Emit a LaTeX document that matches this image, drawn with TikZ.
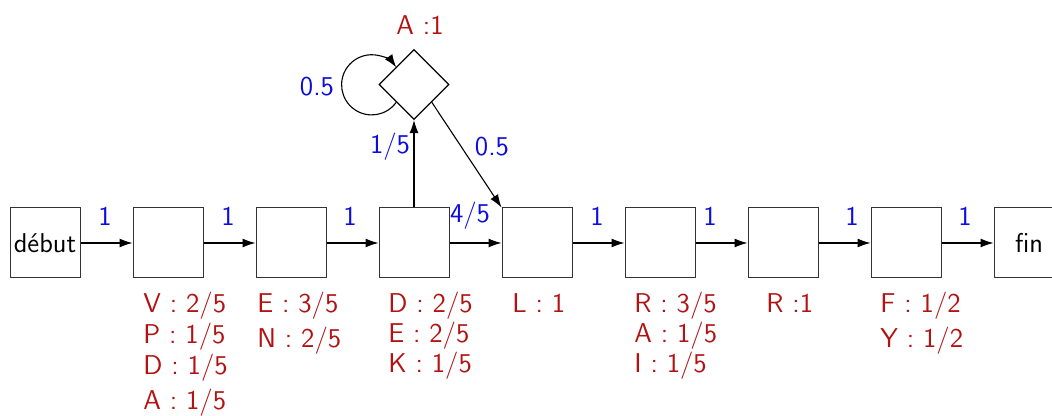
\documentclass[tikz,border=0pt]{standalone}
\usetikzlibrary{shapes.geometric,arrows.meta}
\definecolor{lblred}{RGB}{178,18,18}
\definecolor{lblblue}{RGB}{12,12,220}
\begin{document}
\begin{tikzpicture}[x=0.5pt,y=0.5pt,
  every node/.style={font=\sffamily\fontsize{13.6}{16}\selectfont},
  state/.style={draw=black!80,line width=0.5pt,minimum width=35pt,minimum height=35pt,inner sep=0pt},
  loopstate/.style={diamond,draw=black,line width=0.6pt,minimum width=35pt,minimum height=35pt,inner sep=0pt},
  arr/.style={-{Latex[length=6.5pt,width=4.5pt]},line width=0.55pt,black},
  prob/.style={text=lblblue,inner sep=0pt},
  emit/.style={text=lblred,inner sep=0pt,anchor=base west}]
\useasboundingbox (0,0) rectangle (1052,416);
\clip (0,0) rectangle (1052,416);
% states
\node[state] (deb) at (45,173) {début};
\node[state] (s1) at (168,173) {};
\node[state] (s2) at (291,173) {};
\node[state] (s3) at (414,173) {};
\node[state] (s4) at (537,173) {};
\node[state] (s5) at (660,173) {};
\node[state] (s6) at (783,173) {};
\node[state] (s7) at (906,173) {};
\node[state] (fin) at (1029,173) {fin};
\node[loopstate] (ins) at (414,331.5) {};
% chain arrows
\draw[arr] (deb) -- (s1);
\draw[arr] (s1) -- (s2);
\draw[arr] (s2) -- (s3);
\draw[arr] (s3) -- (s4);
\draw[arr] (s4) -- (s5);
\draw[arr] (s5) -- (s6);
\draw[arr] (s6) -- (s7);
\draw[arr] (s7) -- (fin);
\draw[arr] (s3.north) -- (ins.south);
\draw[arr] (ins.south east) -- (s4.north west);
\draw[arr] (ins.south west) arc[start angle=-35.5,end angle=-324.5,radius=30.1];
% transition probabilities
\node[prob] (p1) at (105,200) {1};
\node[prob] (p2) at (228,200) {1};
\node[prob] (p3) at (350,200) {1};
\node[prob] (p4) at (470,200) {4/5};
\node[prob] (p5) at (597,200) {1};
\node[prob] (p6) at (710,200) {1};
\node[prob] (p7) at (852,200) {1};
\node[prob] (p8) at (965,200) {1};
\node[prob] (pup) at (390,269) {1/5};
\node[prob] (pdown) at (492,269) {0.5};
\node[prob] (ploop) at (317,329) {0.5};
% emissions
\node[text=lblred,inner sep=0pt] (eA) at (420,391) {A :1};
\node[emit] (e1a) at (143,103) {V : 2/5};
\node[emit] (e1b) at (143,72) {P : 1/5};
\node[emit] (e1c) at (143,41) {D : 1/5};
\node[emit] (e1d) at (143,6) {A : 1/5};
\node[emit] (e2a) at (257,103) {E : 3/5};
\node[emit] (e2b) at (257,68) {N : 2/5};
\node[emit] (e3a) at (388,103) {D : 2/5};
\node[emit] (e3b) at (388,73) {E : 2/5};
\node[emit] (e3c) at (388,43) {K : 1/5};
\node[emit] (e4a) at (512,103) {L : 1};
\node[emit] (e5a) at (634,103) {R : 3/5};
\node[emit] (e5b) at (634,73) {A : 1/5};
\node[emit] (e5c) at (634,43) {I : 1/5};
\node[emit] (e6a) at (766,103) {R :1};
\node[emit] (e7a) at (880,103) {F : 1/2};
\node[emit] (e7b) at (880,68) {Y : 1/2};
\end{tikzpicture}
\end{document}
